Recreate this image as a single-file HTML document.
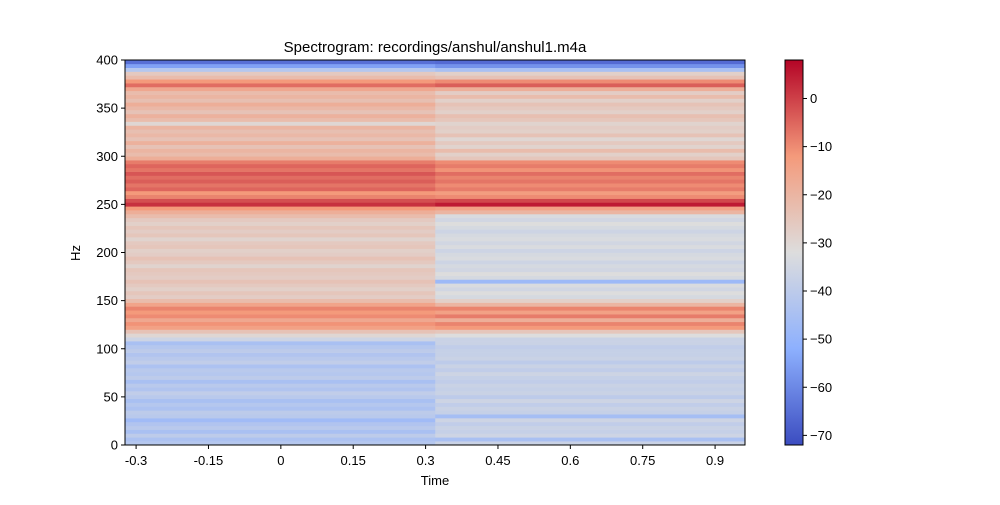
<!DOCTYPE html>
<html><head><meta charset="utf-8"><style>
body{margin:0;background:#fff;font-family:"Liberation Sans",sans-serif}
</style></head><body>
<svg id="chart" width="1000" height="500" xmlns="http://www.w3.org/2000/svg" font-family="Liberation Sans, sans-serif" font-size="13">
<text x="435" y="52" text-anchor="middle" font-size="15">Spectrogram: recordings/anshul/anshul1.m4a</text>
<g id="heat"></g>
<g id="axes"></g>
<text x="435" y="485" text-anchor="middle">Time</text>
<text transform="translate(80,253) rotate(-90)" text-anchor="middle">Hz</text>
<defs><linearGradient id="cg" x1="0" y1="1" x2="0" y2="0">
<stop offset="0" stop-color="rgb(59,76,192)"/><stop offset="0.25" stop-color="rgb(141,176,254)"/><stop offset="0.5" stop-color="rgb(221,221,221)"/><stop offset="0.75" stop-color="rgb(244,154,123)"/><stop offset="1" stop-color="rgb(180,4,38)"/></linearGradient></defs>
<rect x="785" y="60" width="18" height="385" fill="url(#cg)" stroke="#000" stroke-width="1"/>
<g id="cbax"></g>
</svg>
<script>
const timeEdges=[-0.323,0.32,0.962];
const binHz=4;
const colA=[-42,-44,-40,-45,-41,-43,-47,-41,-40,-44,-42,-45,-41,-39,-43,-41,-45,-40,-42,-41,-44,-39,-41,-43,-40,-42,-45,
-36,-30,-24,
-14,-11,-16,-10,-12,-9,-15,
-22,-27,-25,-28,-26,-24,-27,-26,-25,-29,-26,-24,-27,-28,-25,-26,-29,-25,-27,-25,-28,-26,-22,
-18,-12,2,-2,-9,-12,
-5,-7,-4,-6,-3,-7,-5,-8,
-18,-22,-20,-24,-19,-24,-21,-23,-20,-30,-22,-19,-24,-21,-18,-23,-20,-22,-16,
-6,-12,-22,-26,-42,-55,-65];
const colB=[-37,-45,-36,-38,-37,-39,-36,-46,-38,-37,-39,-36,-40,-37,-38,-37,-39,-38,-36,-39,-37,-40,-37,-38,-38,-39,-37,
-37,-32,-25,
-12,-9,-18,-8,-14,-9,-20,
-28,-34,-32,-35,-33,-48,-34,-32,-35,-34,-36,-33,-34,-36,-33,-35,-33,-34,-36,-34,-32,-35,-33,
-20,-14,5,-1,-10,-13,
-8,-10,-7,-9,-6,-11,-8,-10,
-25,-28,-22,-29,-26,-30,-24,-28,-27,-29,-25,-23,-28,-26,-24,-28,-22,-27,-18,
-4,-10,-24,-28,-45,-58,-66];
const columns=[colA,colB];
const xTicks=[-0.3,-0.15,0,0.15,0.3,0.45,0.6,0.75,0.9];
const xTickLabels=["-0.3","-0.15","0","0.15","0.3","0.45","0.6","0.75","0.9"];
const yTicks=[0,50,100,150,200,250,300,350,400];
const cTicks=[0,-10,-20,-30,-40,-50,-60,-70];
const vmin=-72,vmax=8;
const X0=125,X1=745,Y0=445,Y1=60;
const xs=t=>X0+(t-(-0.323))/(0.962+0.323)*(X1-X0);
const ys=h=>Y0-h/400*(Y0-Y1);
const cy=v=>Y0-(v-vmin)/(vmax-vmin)*(Y0-Y1);
const anchors=[[59,76,192],[141,176,254],[221,221,221],[244,154,123],[180,4,38]];
function cmap(v){let t=Math.max(0,Math.min(1,(v-vmin)/(vmax-vmin)))*4;let i=Math.min(3,Math.floor(t)),f=t-i;
const a=anchors[i],b=anchors[i+1];return `rgb(${a.map((c,k)=>Math.round(c+(b[k]-c)*f)).join(',')})`;}
const NS="http://www.w3.org/2000/svg";
function mk(tag,attrs,parent){const e=document.createElementNS(NS,tag);for(const k in attrs)e.setAttribute(k,attrs[k]);parent.appendChild(e);return e;}
const heat=document.getElementById('heat');
columns.forEach((col,ci)=>{col.forEach((v,bi)=>{
 const x=xs(timeEdges[ci]),x2=xs(timeEdges[ci+1]);const yT=ys((bi+1)*binHz),yB=ys(bi*binHz);
 const r=mk('rect',{x:x,y:yT,width:x2-x+0.5,height:yB-yT+0.3,fill:cmap(v)},heat);
 
 
});});
const ax=document.getElementById('axes');
const fr=mk('rect',{x:X0,y:Y1,width:X1-X0,height:Y0-Y1,fill:'none',stroke:'#000','stroke-width':1},ax);


xTicks.forEach((t,i)=>{const x=xs(t);mk('line',{x1:x,x2:x,y1:Y0,y2:Y0+4,stroke:'#000'},ax);
 const tx=mk('text',{x:x,y:Y0+20,'text-anchor':'middle'},ax);tx.textContent=xTickLabels[i];
 
 });
yTicks.forEach(h=>{const y=ys(h);mk('line',{x1:X0-4,x2:X0,y1:y,y2:y,stroke:'#000'},ax);
 const tx=mk('text',{x:X0-7,y:y+4.5,'text-anchor':'end'},ax);tx.textContent=h;
 
 });
const cb=document.getElementById('cbax');
cTicks.forEach(v=>{const y=cy(v);mk('line',{x1:803,x2:807,y1:y,y2:y,stroke:'#000'},cb);
 const tx=mk('text',{x:810,y:y+4.5},cb);tx.textContent=v===0?'0':'\u2212'+Math.abs(v);
 
 });
</script>
</body></html>
